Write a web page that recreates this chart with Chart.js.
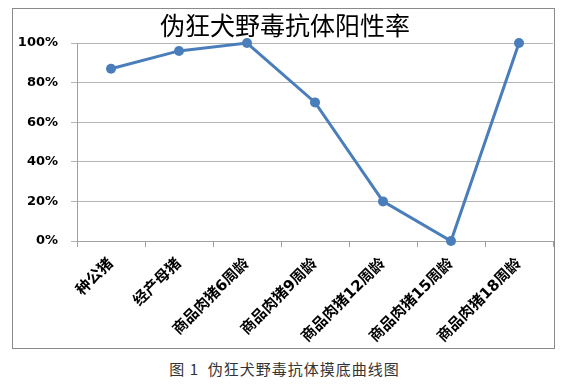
<!DOCTYPE html>
<html>
<head>
<meta charset="utf-8">
<script src="https://cdn.jsdelivr.net/npm/chart.js@4/dist/chart.umd.min.js"></script>
<style>
  body { margin: 0; background: #fff; }
  #wrap { position: relative; width: 569px; height: 386px; }
  #box { position: absolute; left: 12px; top: 8px; width: 541px; height: 339px; border: 1.5px solid #8a8a8a; pointer-events: none; }
  canvas { position: absolute; left: 0; top: 0; }
  #caption { position: absolute; left: 0; width: 569px; top: 358px; text-align: center;
    font: 15px "Noto Sans CJK SC", sans-serif; color: #333; letter-spacing: 1px; }
</style>
</head>
<body>
<div id="wrap">
  <canvas id="canvas" width="569" height="350"></canvas>
  <div id="box"></div>
  <div id="caption">图 1&nbsp; 伪狂犬野毒抗体摸底曲线图</div>
</div>
<script>
var chartTitle = '伪狂犬野毒抗体阳性率';
var categories = ['种公猪', '经产母猪', '商品肉猪6周龄', '商品肉猪9周龄', '商品肉猪12周龄', '商品肉猪15周龄', '商品肉猪18周龄'];
var positiveRate = [87, 96, 100, 70, 20, 0, 100];
var yMin = 0, yMax = 100, yStep = 20;

var ctx = document.getElementById('canvas').getContext('2d');
window.myLine = new Chart(ctx, {
    type: 'line',
    data: {
        labels: categories,
        datasets: [{
            label: '阳性率',
            data: positiveRate,
            borderColor: '#4a7ebb',
            backgroundColor: '#4a7ebb',
            borderWidth: 3,
            pointRadius: 5,
            pointBorderWidth: 0,
            tension: 0,
            clip: false
        }]
    },
    options: {
        responsive: false,
        animation: false,
        layout: { padding: { top: 10, right: 16, bottom: 2, left: 17 } },
        plugins: {
            legend: { display: false },
            tooltip: { enabled: false },
            title: {
                display: true,
                text: chartTitle,
                color: '#000',
                font: { family: '"Noto Sans CJK SC", sans-serif', size: 25, weight: 'normal' },
                padding: { top: 0, bottom: 3 }
            }
        },
        scales: {
            x: {
                offset: true,
                grid: { offset: true, drawOnChartArea: false, tickLength: 6, color: '#a0a0a0' },
                border: { color: '#a0a0a0' },
                ticks: {
                    minRotation: 45, maxRotation: 45, padding: 8,
                    color: '#000',
                    font: { family: '"DejaVu Sans", "Noto Sans CJK SC", sans-serif', size: 15, weight: 'bold' }
                },
                afterFit: function(s) { s.height = 107; }
            },
            y: {
                min: yMin, max: yMax,
                grid: { color: '#b4b4b4', tickLength: 6 },
                border: { color: '#a0a0a0' },
                ticks: {
                    stepSize: yStep, padding: 13, color: '#000',
                    font: { family: '"DejaVu Sans", sans-serif', size: 13, weight: 'bold' },
                    callback: function(v) { return v + '%'; }
                },
                afterFit: function(s) { s.width = 60; }
            }
        }
    }
});
</script>
</body>
</html>
